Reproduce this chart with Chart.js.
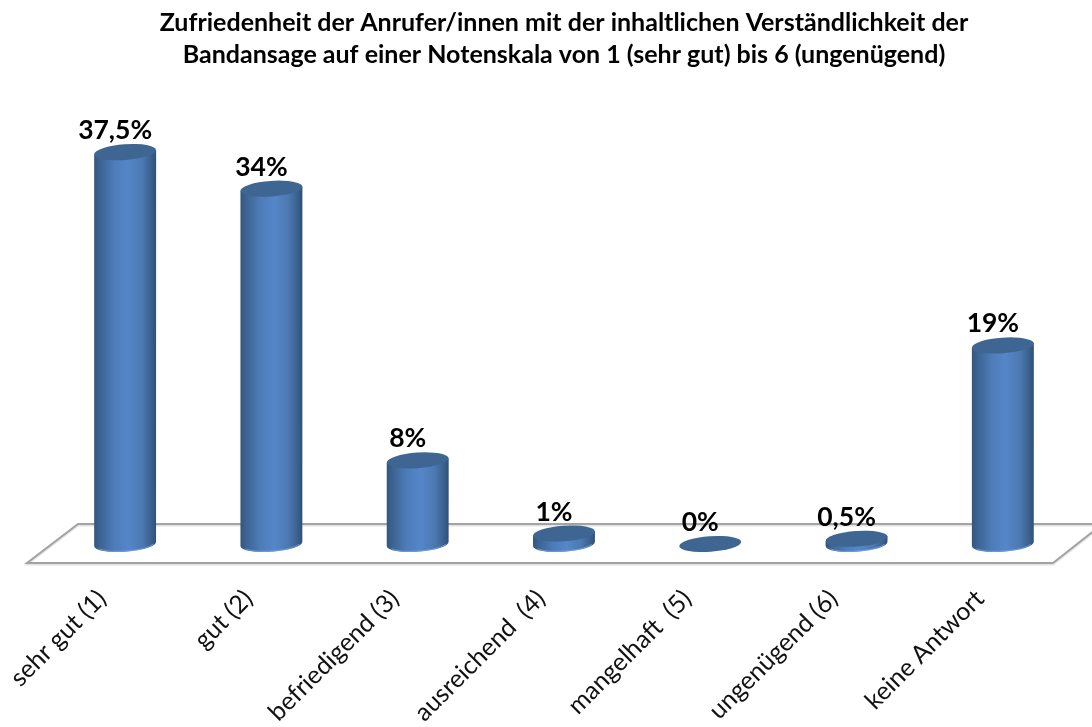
<!DOCTYPE html>
<html><head><meta charset="utf-8">
<style>html,body{margin:0;padding:0;background:#fff}canvas{display:block}</style>
<script src="https://cdn.jsdelivr.net/npm/chart.js@4"></script>
</head><body><canvas id="c" width="1092" height="727"></canvas>
<script>
const categories = ['sehr gut (1)','gut (2)','befriedigend (3)','ausreichend  (4)','mangelhaft  (5)','ungenügend (6)','keine Antwort'];
const percentValues = [37.5,34,8,1,0,0.5,19];
const titleLines = ['Zufriedenheit der Anrufer/innen mit der inhaltlichen Verständlichkeit der','Bandansage auf einer Notenskala von 1 (sehr gut) bis 6 (ungenügend)'];
const FONT = 'Lato, "Open Sans", sans-serif';

function ellipsePath(ctx,x,y,rx,ry,rot){ctx.beginPath();ctx.ellipse(x,y,rx,ry,rot,0,Math.PI*2);ctx.closePath();}

const floorPlugin = {
  id:'floor',
  beforeDatasetsDraw(chart){
    const {ctx,chartArea:a}=chart;
    const front=a.bottom+19, back=a.bottom-20;
    const draw=(color,w,dy)=>{
      ctx.save();ctx.strokeStyle=color;ctx.lineWidth=w;ctx.lineJoin='miter';
      ctx.beginPath();
      ctx.moveTo(a.right+20,back+dy);ctx.lineTo(a.left+26,back+dy);ctx.lineTo(a.left-25,front+dy);
      ctx.lineTo(a.right-23,front+dy);ctx.lineTo(a.right+20,front-34+dy);
      ctx.stroke();ctx.restore();
    };
    draw('#e2e2e2',2,1.5);
    draw('#a3a3a3',2,0);
  }
};

const cylinderPlugin = {
  id:'cylinder',
  beforeDatasetDraw(chart,args){
    const {ctx}=chart;
    const rot=-4*Math.PI/180;
    args.meta.data.forEach((bar)=>{
      const rx=bar.width/2, ry=7.8, x=bar.x, top=bar.y, base=bar.base;
      const left=x-rx, right=x+rx;
      const dy=Math.sin(rot)*rx;
      ctx.save();
      if(base-top>0.5){
        const g=ctx.createLinearGradient(left,0,right,0);
        g.addColorStop(0,'#33567f');g.addColorStop(0.1,'#3d6493');g.addColorStop(0.32,'#4d7cb8');
        g.addColorStop(0.55,'#5586c8');g.addColorStop(0.78,'#4b78b1');g.addColorStop(0.93,'#3a5f8b');g.addColorStop(1,'#304f74');
        ctx.fillStyle=g;
        ctx.beginPath();
        ctx.moveTo(left,top-dy);
        ctx.lineTo(left,base-dy);
        ctx.ellipse(x,base,rx,ry,rot,Math.PI,0,true);
        ctx.lineTo(right,top+dy);
        ctx.closePath();
        ctx.fill();
        ctx.strokeStyle='rgba(125,170,225,0.6)';ctx.lineWidth=1.2;
        ctx.beginPath();ctx.ellipse(x,base-0.6,rx-1,ry,rot,Math.PI*0.85,Math.PI*0.12,true);ctx.stroke();
      }
      ctx.fillStyle='#3f6693';
      ellipsePath(ctx,x,top,rx,ry,rot);ctx.fill();
      ctx.restore();
    });
    return false;
  },
  afterDatasetsDraw(chart){
    const {ctx}=chart;
    const meta=chart.getDatasetMeta(0);
    ctx.save();
    ctx.font='bold 26.5px '+FONT;ctx.fillStyle='#000';ctx.textAlign='center';ctx.textBaseline='middle';
    meta.data.forEach((bar,i)=>{
      const t=String(percentValues[i]).replace('.',',')+'%';
      ctx.fillText(t,bar.x-10,bar.y-21.5);
    });
    ctx.restore();
  }
};

new Chart(document.getElementById('c'),{
  type:'bar',
  data:{labels:categories,datasets:[{data:percentValues,backgroundColor:'#4f81bd',barPercentage:0.4235,categoryPercentage:1}]},
  plugins:[floorPlugin,cylinderPlugin],
  options:{
    responsive:false,animation:false,
    layout:{padding:{left:52,right:16,top:0,bottom:0}},
    plugins:{
      legend:{display:false},tooltip:{enabled:false},
      title:{display:true,text:titleLines,color:'#000',font:{family:FONT,size:25,weight:'bold',lineHeight:1.28},padding:{top:7,bottom:55}}
    },
    scales:{
      x:{
        grid:{display:false,drawTicks:false},border:{display:false},
        ticks:{autoSkip:false,minRotation:45,maxRotation:45,padding:40,labelOffset:-23,color:'#111',font:{family:FONT,size:25}},
        afterFit(s){s.height=183;s.paddingLeft=0;s.paddingRight=0;}
      },
      y:{display:false,min:0,max:40}
    }
  }
});
</script></body></html>
